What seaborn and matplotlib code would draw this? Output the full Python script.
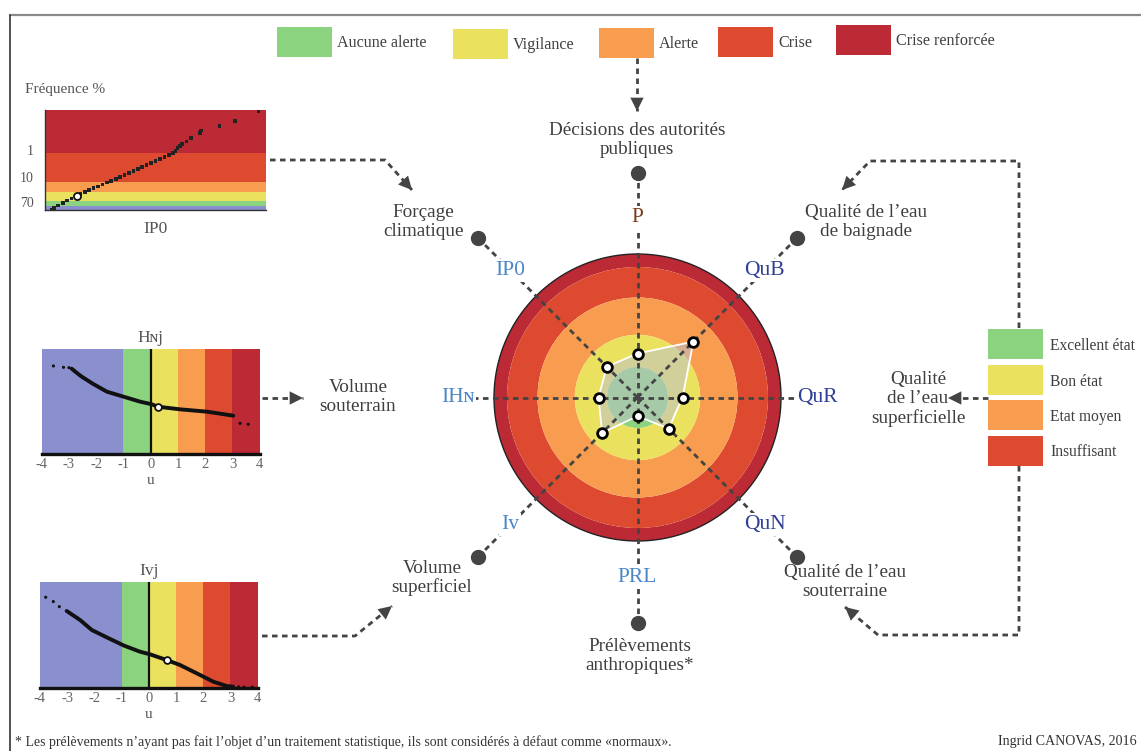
import numpy as np
import matplotlib
matplotlib.use("Agg")
import matplotlib.pyplot as plt
from matplotlib.patches import Rectangle
import seaborn as sns

sns.set_theme(style="white")
plt.rcParams["font.family"] = ["Liberation Serif", "DejaVu Serif"]

# -----------------------------------------------------------------------------
# Donnees
# -----------------------------------------------------------------------------
BLUE, GREEN, YELLOW = "#8A8FCE", "#8BD37E", "#EAE15E"
ORANGE, RED, DARKRED = "#F89C50", "#DE4A2F", "#BC2A35"

niveaux_alerte = ["Aucune alerte", "Vigilance", "Alerte", "Crise", "Crise renforcée"]
couleurs_alerte = [GREEN, YELLOW, ORANGE, RED, DARKRED]

etats_qualite = ["Excellent état", "Bon état", "Etat moyen", "Insuffisant"]
couleurs_qualite = [GREEN, YELLOW, ORANGE, RED]

# radar : indicateurs et valeur courante (meme unite que les anneaux)
indicateurs = ["P", "QuB", "QuR", "QuN", "PRL", "Iv", "IHɴ", "IP0"]
couleurs_indic = ["#7A3B1C", "#2F3F96", "#2F3F96", "#2F3F96",
                  "#4A86C8", "#4A86C8", "#4A86C8", "#4A86C8"]
valeurs_radar = [44, 79, 45, 44, 18.6, 50, 39, 43.5]
rayons_anneaux = [30.5, 62.7, 100, 130.5, 143.5]
couleurs_anneaux = [GREEN, YELLOW, ORANGE, RED, DARKRED]

# IP0 : frequences (axe y en % de hauteur)
ip0_bornes = [0, 4.3, 9, 18.3, 28.3, 56.7, 100]
ip0_couleurs = [BLUE, GREEN, YELLOW, ORANGE, RED, DARKRED]
ip0_ticks = [60, 33, 8]
ip0_ticklabels = ["1", "10", "70"]
ip0_x = [3, 4, 6, 8, 10, 12, 14, 16, 18, 20, 22, 24, 26, 28, 30, 32, 34, 36, 38,
         40, 42, 44, 46, 48, 50, 52, 54, 56, 58, 59, 60, 61, 62, 64, 66, 70, 70.5,
         79, 86, 96.6]
ip0_y = [0, 2, 4.5, 7, 9.5, 11.5, 14, 16, 18, 19.8, 21.8, 23.6, 25.5, 27.4, 29.3,
         31.3, 33.2, 35.1, 37, 39, 41, 43, 45, 47, 49.3, 51, 53, 55, 57, 59, 62,
         64, 66, 68.5, 71.7, 77, 79.5, 84, 89.3, 98.7]
ip0_actuel = (14.4, 14)

# Hnj / Ivj : variable centree reduite u
u_bornes = [-4, -1, 0, 1, 2, 3, 4]
u_couleurs = [BLUE, GREEN, YELLOW, ORANGE, RED, DARKRED]
u_ticks = [-4, -3, -2, -1, 0, 1, 2, 3, 4]

hnj_u = [-2.9, -2.72, -2.53, -2.11, -1.61, -0.88, -0.39, 0.04, 0.26, 1.08, 2.06, 3.03]
hnj_y = [81.3, 77.5, 73.7, 66.8, 59.5, 53.8, 50, 47.5, 45.2, 42.7, 40.5, 36.7]
hnj_u_isoles = [-3.57, -3.2, -3.0, 3.28, 3.58]
hnj_y_isoles = [83.9, 82.6, 82.3, 29.4, 28.5]
hnj_actuel = (0.26, 45.2)

ivj_u = [-3.02, -2.53, -2.10, -1.55, -0.91, -0.33, 0.04, 0.65, 1.14, 1.88, 2.37, 2.86, 3.1]
ivj_y = [72.8, 64.3, 54.8, 47.8, 39.9, 34.2, 31.7, 26.3, 21.6, 12.1, 5.7, 1.6, 1.0]
ivj_u_isoles = [-3.79, -3.51, -3.29, 3.3, 3.5, 3.8]
ivj_y_isoles = [85.8, 81.7, 76.9, 0.8, 0.6, 0.5]
ivj_actuel = (0.65, 26.3)

# -----------------------------------------------------------------------------
# Mise en page (coordonnees en pixels, y vers le bas)
# -----------------------------------------------------------------------------
W, H = 1141, 751
TXT = "#3f3f3f"
DARK = "#444444"
GRIS = "#555555"
DASH = (0, (2, 1.6))

fig = plt.figure(figsize=(W / 100, H / 100), dpi=100)


def px_axes(x0, y0, x1, y1, **kw):
    return fig.add_axes([x0 / W, 1 - y1 / H, (x1 - x0) / W, (y1 - y0) / H], **kw)


base = px_axes(0, 0, W, H)
base.set_xlim(0, W)
base.set_ylim(H, 0)
base.axis("off")

# cadre
base.plot([10, W], [15, 15], color="#8a8a8a", lw=1.6)
base.plot([10, 10], [15, H], color="#333333", lw=1.2)

# legende du haut
leg_x = [277, 453, 599, 718, 836]
leg_y = [27, 29, 28, 27, 25]
for x, y, lab, c in zip(leg_x, leg_y, niveaux_alerte, couleurs_alerte):
    base.add_patch(Rectangle((x, y), 55, 30, color=c, lw=0))
    base.text(x + 60, y + 16, lab, ha="left", va="center", fontsize=11.6, color=TXT)

# legende de droite
for i, (lab, c) in enumerate(zip(etats_qualite, couleurs_qualite)):
    y = 329 + i * 35.5
    base.add_patch(Rectangle((988, y), 55, 30, color=c, lw=0))
    base.text(1050, y + 17, lab, ha="left", va="center", fontsize=11.2, color=TXT)


def fleche(xs, ys, tete=True):
    base.plot(xs, ys, color=DARK, lw=2, ls=DASH, solid_capstyle="butt")
    if tete:
        base.annotate("", xy=(xs[-1], ys[-1]), xytext=(xs[-2], ys[-2]),
                      arrowprops=dict(arrowstyle="-|>", color=DARK, lw=0,
                                      mutation_scale=24, shrinkA=0, shrinkB=0))


fleche([270, 385, 412], [160, 160, 190])
fleche([262, 303], [398, 398])
fleche([262, 355, 392], [636, 636, 606])
fleche([637, 637], [58, 111])
fleche([1019, 1019, 870, 842], [328, 161, 161, 190])
fleche([988, 948], [398, 398])
fleche([1019, 1019, 878, 845], [466, 635, 635, 607])

# textes autour du radar
textes = [
    (637, 140, "Décisions des autorités\npubliques"),
    (423, 222, "Forçage\nclimatique"),
    (866, 222, "Qualité de l’eau\nde baignade"),
    (358, 397, "Volume\nsouterrain"),
    (918, 399, "Qualité\nde l’eau\nsuperficielle"),
    (432, 578, "Volume\nsuperficiel"),
    (845, 582, "Qualité de l’eau\nsouterraine"),
    (640, 656, "Prélèvements\nanthropiques*"),
]
for x, y, s in textes:
    base.text(x, y, s, ha="center", va="center", fontsize=13.8, color=TXT,
              linespacing=1.15)

base.text(15, 742, "* Les prélèvements n’ayant pas fait l’objet d’un traitement "
          "statistique, ils sont considérés à défaut comme «normaux».",
          ha="left", va="center", fontsize=10, color="#333333")
base.text(998, 742, "Ingrid CANOVAS, 2016", ha="left", va="center",
          fontsize=10.1, color="#333333")

# -----------------------------------------------------------------------------
# Radar central
# -----------------------------------------------------------------------------
CX, CY, R = 637.5, 397.5, 240
pol = px_axes(CX - R, CY - R, CX + R, CY + R, projection="polar")
pol.set_theta_zero_location("N")
pol.set_theta_direction(-1)
pol.set_ylim(0, R)
pol.axis("off")

bas = [0] + rayons_anneaux[:-1]
for b, h, c in zip(reversed(bas), reversed(rayons_anneaux), reversed(couleurs_anneaux)):
    pol.bar(0, h - b, width=2 * np.pi, bottom=b, color=c, edgecolor="none", zorder=1)
cercle = np.linspace(0, 2 * np.pi, 361)
pol.plot(cercle, np.full_like(cercle, rayons_anneaux[-1]), color="#222222", lw=1, zorder=2)

angles = np.deg2rad(np.arange(len(indicateurs)) * 360 / len(indicateurs))
avec_point = [True, True, False, True, True, True, False, True]
for a, pt in zip(angles, avec_point):
    r_fin = 225 if pt else 175
    pol.plot([a, a], [0, r_fin], color=DARK, lw=2, ls=DASH, zorder=4)
    if pt:
        pol.plot([a], [225], "o", color=DARK, ms=10, zorder=5)

a_ferme = np.append(angles, angles[0])
v_ferme = np.append(valeurs_radar, valeurs_radar[0])
pol.fill(a_ferme, v_ferme, color=(0.74, 0.76, 0.80), alpha=0.55, lw=0, zorder=3)
pol.plot(a_ferme, v_ferme, color="white", lw=1.3, zorder=5)
pol.plot(angles, valeurs_radar, "o", mfc="white", mec="black", mew=2, ms=7, zorder=6)

for a, lab, c in zip(angles, indicateurs, couleurs_indic):
    pol.text(a, 180, lab, ha="center", va="center", fontsize=15.5, color=c, zorder=7,
             bbox=dict(facecolor="white", edgecolor="none", pad=1.5))

# -----------------------------------------------------------------------------
# Petits graphiques
# -----------------------------------------------------------------------------
# IP0
ax = px_axes(45, 110, 266, 210)
for lo, hi, c in zip(ip0_bornes[:-1], ip0_bornes[1:], ip0_couleurs):
    ax.axhspan(lo, hi, color=c, lw=0)
sns.scatterplot(x=ip0_x, y=ip0_y, marker="s", s=7, color="#222222",
                edgecolor="none", ax=ax, zorder=3)
sns.scatterplot(x=[ip0_actuel[0]], y=[ip0_actuel[1]], s=26, color="white",
                edgecolor="#111111", linewidth=1.3, ax=ax, zorder=4)
ax.set_xlim(0, 100)
ax.set_ylim(0, 100)
ax.set_xticks([])
ax.set_yticks(ip0_ticks, ip0_ticklabels)
ax.tick_params(axis="y", length=0, pad=8, labelsize=10, labelcolor=GRIS)
for s in ["top", "right"]:
    ax.spines[s].set_visible(False)
for s in ["left", "bottom"]:
    ax.spines[s].set_color("#333333")
    ax.spines[s].set_linewidth(1)
ax.set_xlabel("IP0", fontsize=12.5, color=GRIS, labelpad=8)
ax.set_ylabel("")
base.text(25, 90, "Fréquence %", ha="left", va="center", fontsize=11, color=GRIS)


def graphe_u(box, titre, u, y, u_iso, y_iso, actuel):
    ax = px_axes(*box)
    for lo, hi, c in zip(u_bornes[:-1], u_bornes[1:], u_couleurs):
        ax.axvspan(lo, hi, color=c, lw=0)
    ax.axvline(0, color="#111111", lw=1.6, zorder=2)
    sns.lineplot(x=u, y=y, color="#111111", lw=2.8, ax=ax, zorder=3)
    sns.scatterplot(x=u_iso, y=y_iso, s=5, color="#111111", edgecolor="none",
                    ax=ax, zorder=3)
    sns.scatterplot(x=[actuel[0]], y=[actuel[1]], s=24, color="white",
                    edgecolor="#111111", linewidth=1.3, ax=ax, zorder=4)
    ax.set_xlim(u_bornes[0], u_bornes[-1])
    ax.set_ylim(0, 100)
    ax.set_yticks([])
    ax.set_xticks(u_ticks, [str(t) for t in u_ticks])
    ax.tick_params(axis="x", length=0, pad=3, labelsize=10.5, labelcolor="#666666")
    for s in ["top", "right", "left"]:
        ax.spines[s].set_visible(False)
    ax.spines["bottom"].set_color("#111111")
    ax.spines["bottom"].set_linewidth(2.4)
    ax.set_xlabel("u", fontsize=11, color=GRIS, labelpad=2)
    ax.set_ylabel("")
    ax.set_title(titre, fontsize=12.5, color=GRIS, pad=5)
    return ax


graphe_u((41.7, 349, 259.7, 454.3), "Hɴj", hnj_u, hnj_y, hnj_u_isoles,
         hnj_y_isoles, hnj_actuel)
graphe_u((40, 582.3, 257.7, 687.7), "Ivj", ivj_u, ivj_y, ivj_u_isoles,
         ivj_y_isoles, ivj_actuel)

fig.savefig("out.png", dpi=100)
